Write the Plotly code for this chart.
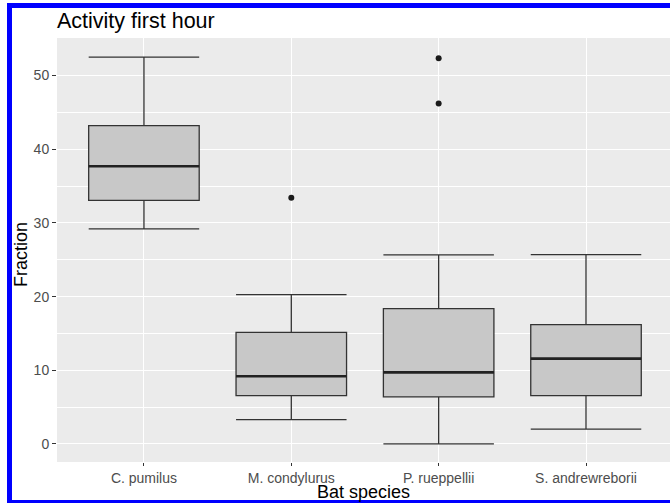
import plotly.graph_objects as go

species = ["C. pumilus", "M. condylurus", "P. rueppellii", "S. andrewreborii"]
lower_whisker = [29.2, 3.3, 0.0, 2.0]
q1 = [33.05, 6.56, 6.38, 6.56]
median = [37.7, 9.18, 9.72, 11.58]
q3 = [43.2, 15.15, 18.36, 16.2]
upper_whisker = [52.5, 20.26, 25.65, 25.7]
outlier_species = [1, 2, 2]
outlier_values = [33.4, 52.35, 46.2]
y_ticks = [0, 10, 20, 30, 40, 50]

W, H = 670, 503
L, R, T, B = 57, 0, 38, 41
pw, ph = W - L - R, H - T - B

def px(X):
    return (X - L) / pw

def py(Y):
    return (H - B - Y) / ph

pos = list(range(len(species)))
box_w = 0.75

fig = go.Figure()
fig.add_trace(go.Box(
    x=pos, q1=q1, median=median, q3=q3,
    lowerfence=lower_whisker, upperfence=upper_whisker,
    width=box_w, whiskerwidth=1, boxpoints=False,
    fillcolor="#C8C8C8", line=dict(color="#333333", width=1.3),
    showlegend=False, hoverinfo="skip",
))

mx, my = [], []
for i, m in zip(pos, median):
    mx += [i - box_w / 2, i + box_w / 2, None]
    my += [m, m, None]
fig.add_trace(go.Scatter(x=mx, y=my, mode="lines",
                         line=dict(color="#222222", width=2.6),
                         showlegend=False, hoverinfo="skip"))

fig.add_trace(go.Scatter(x=outlier_species, y=outlier_values, mode="markers",
                         marker=dict(color="#1a1a1a", size=6),
                         showlegend=False, hoverinfo="skip"))

font = "Liberation Sans, Arial, sans-serif"
fig.update_layout(
    width=W, height=H,
    margin=dict(l=L, r=R, t=T, b=B, pad=0),
    paper_bgcolor="white", plot_bgcolor="#EBEBEB",
    font=dict(family=font),
    title=dict(text="Activity first hour", x=px(57), xref="paper", xanchor="left",
               y=1 - 20 / H, yref="container", yanchor="middle",
               font=dict(size=21.5, color="black", family=font)),
    xaxis=dict(range=[-0.59, 3.57], tickvals=pos, ticktext=species,
               showgrid=True, gridcolor="white", gridwidth=1.2,
               ticks="outside", ticklen=3, tickcolor="#333333", tickwidth=1,
               tickfont=dict(size=14, color="#4D4D4D"),
               zeroline=False, showline=False, fixedrange=True),
    yaxis=dict(range=[-2.45, 55.1], tickvals=y_ticks,
               showgrid=True, gridcolor="white", gridwidth=1.2,
               minor=dict(dtick=5, tick0=0, showgrid=True, gridcolor="white", gridwidth=0.6),
               ticks="outside", ticklen=4, tickcolor="#333333", tickwidth=1,
               tickfont=dict(size=14, color="#4D4D4D"),
               zeroline=False, showline=False, fixedrange=True),
    annotations=[
        dict(text="Fraction", x=px(21), y=py(255), xref="paper", yref="paper",
             textangle=-90, showarrow=False, xanchor="center", yanchor="middle",
             font=dict(size=18, color="black", family=font)),
        dict(text="Bat species", x=px(364), y=py(492), xref="paper", yref="paper",
             showarrow=False, xanchor="center", yanchor="middle",
             font=dict(size=18, color="black", family=font)),
    ],
    shapes=[
        dict(type="rect", xref="paper", yref="paper", x0=px(7), x1=px(12), y0=py(503), y1=py(3),
             fillcolor="#0000FF", line=dict(width=0), layer="above"),
        dict(type="rect", xref="paper", yref="paper", x0=px(7), x1=px(670), y0=py(8), y1=py(3),
             fillcolor="#0000FF", line=dict(width=0), layer="above"),
        dict(type="rect", xref="paper", yref="paper", x0=px(7), x1=px(670), y0=py(503), y1=py(500),
             fillcolor="#0000FF", line=dict(width=0), layer="above"),
    ],
)

fig.write_html("out.html", config={"displayModeBar": False},
               post_script="document.body.style.margin='0px';document.body.style.overflow='hidden';")
